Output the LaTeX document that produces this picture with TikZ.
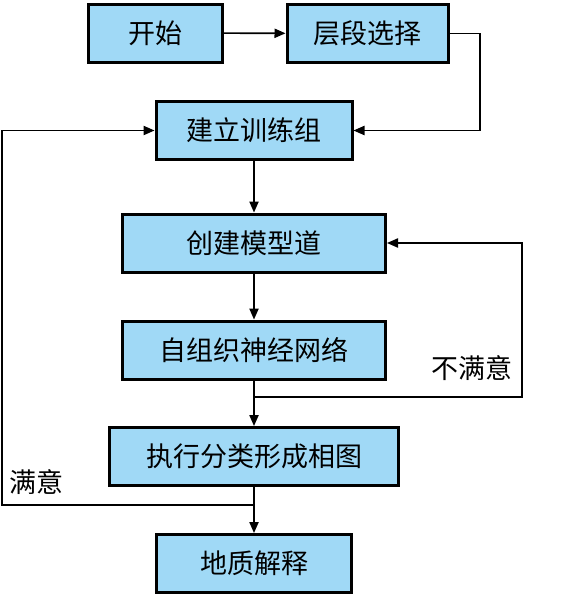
\documentclass[tikz,border=0pt]{standalone}
\usepackage{fontspec}
\newfontfamily\cjk{Noto Sans CJK SC}
\usetikzlibrary{arrows.meta,positioning,calc}
\definecolor{boxblue}{RGB}{160,217,246}
\tikzset{
  stepbox/.style={draw=black, line width=1.5pt, fill=boxblue,
    minimum height=29pt, align=center, inner sep=2pt,
    font=\cjk\fontsize{13.5}{15}\selectfont},
  edge/.style={-{Triangle[length=5.5pt,width=4.6pt]}, line width=0.8pt},
  labeltext/.style={inner sep=0pt, font=\cjk\fontsize{13.5}{15}\selectfont}
}

\begin{document}
\begin{tikzpicture}[x=0.5pt, y=-0.5pt]
  \useasboundingbox (0,0) rectangle (585,594);

  \node[stepbox, minimum width=67pt] (start) at (155,33) {开始};
  \node[stepbox, minimum width=80.5pt] (select) at (367.5,33.5) {层段选择};
  \node[stepbox, minimum width=98pt] (train) at (254,130.5) {建立训练组};
  \node[stepbox, minimum width=131.5pt] (model) at (254,243) {创建模型道};
  \node[stepbox, minimum width=131.5pt] (som) at (254,350) {自组织神经网络};
  \node[stepbox, minimum width=144.5pt] (classify) at (254,456.5) {执行分类形成相图};
  \node[stepbox, minimum width=97.5pt] (interp) at (254,563.5) {地质解释};

  \node[labeltext] (notok) at (472,368) {不满意};
  \node[labeltext] (ok) at (37,482) {满意};

  \coordinate (selturn) at (480,33.5);
  \coordinate (redo) at (254,397);
  \coordinate (redoturn) at (522,397);
  \coordinate (done) at (254,505);
  \coordinate (doneturn) at (2,505);

  \draw[edge] (start) -- (select);
  \draw[edge] (select.east) -- (selturn) |- (train.east);
  \draw[edge] (train) -- (model);
  \draw[edge] (model) -- (som);
  \draw[edge] (som) -- (classify);
  % feedback loops
  \draw[edge] (redo) -- (redoturn) |- (model.east);
  \draw[edge] (done) -- (doneturn) |- (train.west);
  \draw[edge] (classify) -- (interp);
\end{tikzpicture}
\end{document}
